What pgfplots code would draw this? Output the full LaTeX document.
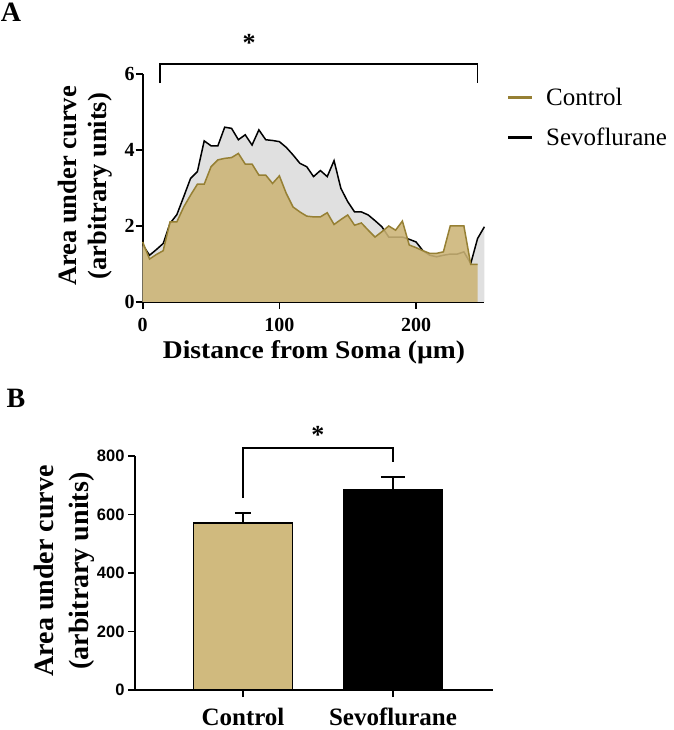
\documentclass[border=0pt]{standalone}
\usepackage{graphicx}
\usepackage{pgfplots}
\usepackage{pgfplotstable}
\pgfplotsset{compat=1.18}
\usepackage{fontspec}
\setmainfont{Liberation Serif}
\newfontfamily\arialfont{Liberation Sans}

\definecolor{ctlfill}{RGB}{204,180,118}
\definecolor{ctlline}{RGB}{150,128,52}
\definecolor{sevofill}{RGB}{224,224,224}
\definecolor{barfill}{RGB}{208,186,126}

\pgfplotstableread{
x y
0 1.58
5 1.13
10 1.25
15 1.35
20 2.11
25 2.11
30 2.50
35 2.81
40 3.10
45 3.10
50 3.56
55 3.74
60 3.78
65 3.80
70 3.91
75 3.63
80 3.63
85 3.34
90 3.34
95 3.12
100 3.32
105 2.86
110 2.50
115 2.37
120 2.26
125 2.24
130 2.24
135 2.35
140 2.04
145 2.17
150 2.29
155 2.02
160 2.08
165 1.89
170 1.71
175 1.85
180 2.00
185 1.89
190 2.13
195 1.50
200 1.43
205 1.35
210 1.28
215 1.28
220 1.32
225 2.00
230 2.00
235 2.00
240 0.99
245 0.99
}\ctl

\pgfplotstableread{
x y
0 1.50
5 1.23
10 1.38
15 1.54
20 2.07
25 2.30
30 2.77
35 3.25
40 3.43
45 4.24
50 4.11
55 4.11
60 4.60
65 4.57
70 4.27
75 4.40
80 4.13
85 4.53
90 4.27
95 4.25
100 4.22
105 4.07
110 3.87
115 3.65
120 3.56
125 3.30
130 3.46
135 3.30
140 3.72
145 2.99
150 2.64
155 2.37
160 2.37
165 2.29
170 2.14
175 1.98
180 1.71
185 1.71
190 1.71
195 1.65
200 1.58
205 1.35
210 1.23
215 1.19
220 1.23
225 1.26
230 1.26
235 1.32
240 1.01
245 1.67
250 1.98
}\sevo

\pgfdeclareplotmark{halfcap}{%
  \pgfpathmoveto{\pgfqpoint{0pt}{0pt}}%
  \pgfpathlineto{\pgfqpoint{0pt}{-\pgfplotmarksize}}%
  \pgfusepathqstroke}

\begin{document}
\begin{tikzpicture}
\path[use as bounding box] (0pt,0pt) rectangle (673pt,730pt);

% ---------------- Panel A ----------------
\begin{axis}[
  at={(142.7pt,428pt)}, anchor=south west, scale only axis,
  width=341.7pt, height=228pt,
  xmin=0, xmax=250, ymin=0, ymax=6,
  axis lines=left, axis line style={-, line width=1.6pt},
  xtick={0,100,200}, ytick={0,2,4,6},
  tick align=outside, major tick length=7pt,
  every tick/.style={black, line width=1.6pt},
  tick label style={font=\fontsize{20}{20}\selectfont\bfseries, inner sep=1pt},
  xticklabel style={yshift=-8pt},
  /pgf/number format/assume math mode=true,
  clip=false,
  legend style={at={(1.069,0.948)}, anchor=north west, draw=none, fill=none,
    font=\fontsize{25}{25}\selectfont, row sep=17pt, inner sep=0pt},
  legend cell align=left,
  legend image code/.code={\fill[#1] (0pt,-1.2pt) rectangle (24pt,1.2pt); \path[draw=none, fill=none] (0pt,0pt) -- (36pt,0pt);},
]
\addlegendimage{fill=ctlline, draw=none}
\addlegendimage{fill=black, draw=none}
\addplot[fill=sevofill, draw=none, forget plot] table {\sevo} \closedcycle;
\addplot[black, line width=1.5pt, forget plot] table {\sevo};
\addplot[fill=ctlfill, fill opacity=0.88, draw=none, forget plot] table {\ctl} \closedcycle;
\addplot[ctlline, line width=1.5pt, forget plot] table {\ctl};
\legend{Control, Sevoflurane}
\draw[line width=1.6pt] (axis cs:12.5,5.76) |- (axis cs:245,6.26) -- (axis cs:245,5.76);
\node[anchor=base, font=\fontsize{26}{26}\selectfont\bfseries, inner sep=0pt, yshift=-14pt] at (axis cs:77.8,6.97) {*};
\end{axis}

\node[inner sep=0pt, font=\fontsize{25.5}{25.5}\selectfont\bfseries] at (314pt,378pt) {\scalebox{1.08}[1]{Distance from Soma (µm)}};
\node[rotate=90, align=center, font=\fontsize{26.5}{30}\selectfont\bfseries] at (85pt,544pt) {Area under curve\\(arbitrary units)};
\node[font=\fontsize{28}{28}\selectfont\bfseries] at (11pt,718pt) {A};
\node[font=\fontsize{28}{28}\selectfont\bfseries] at (16pt,332pt) {B};

% ---------------- Panel B ----------------
\begin{axis}[
  at={(135pt,40pt)}, anchor=south west, scale only axis,
  width=358pt, height=234pt,
  xmin=-0.72, xmax=1.667, ymin=0, ymax=800,
  axis lines=left, axis line style={-, line width=1.6pt},
  xtick={0,1}, xticklabels={Control,Sevoflurane},
  ytick={0,200,400,600,800},
  tick align=outside, major tick length=7pt,
  every tick/.style={black, line width=1.6pt},
  yticklabel style={font=\arialfont\fontsize{16.5}{16.5}\selectfont\bfseries},
  xticklabel style={font=\fontsize{25}{25}\selectfont\bfseries, inner sep=1pt, yshift=-10pt},
  /pgf/number format/assume math mode=true,
  clip=false,
  ybar, bar width=99pt,
]
\addplot[fill=barfill, draw=black, line width=1.6pt, bar shift=0pt,
  error bars/.cd, y dir=plus, y explicit,
  error bar style={black, line width=1.6pt},
  error mark=halfcap, error mark options={black, line width=1.6pt, mark size=16pt}]
  coordinates {(0,570) +- (0,35)};
\addplot[fill=black, draw=black, line width=1.6pt, bar shift=0pt,
  error bars/.cd, y dir=plus, y explicit,
  error bar style={black, line width=1.6pt},
  error mark=halfcap, error mark options={black, line width=1.6pt, mark size=24pt}]
  coordinates {(1,684) +- (0,45)};
\draw[line width=1.6pt] (axis cs:0,656) |- (axis cs:1,827) -- (axis cs:1,779);
\node[anchor=base, font=\fontsize{26}{26}\selectfont\bfseries, inner sep=0pt, yshift=-14pt] at (axis cs:0.5,889) {*};
\end{axis}

\node[rotate=90, align=center, font=\fontsize{28}{35}\selectfont\bfseries] at (64.5pt,159pt) {Area under curve\\(arbitrary units)};
\end{tikzpicture}
\end{document}
